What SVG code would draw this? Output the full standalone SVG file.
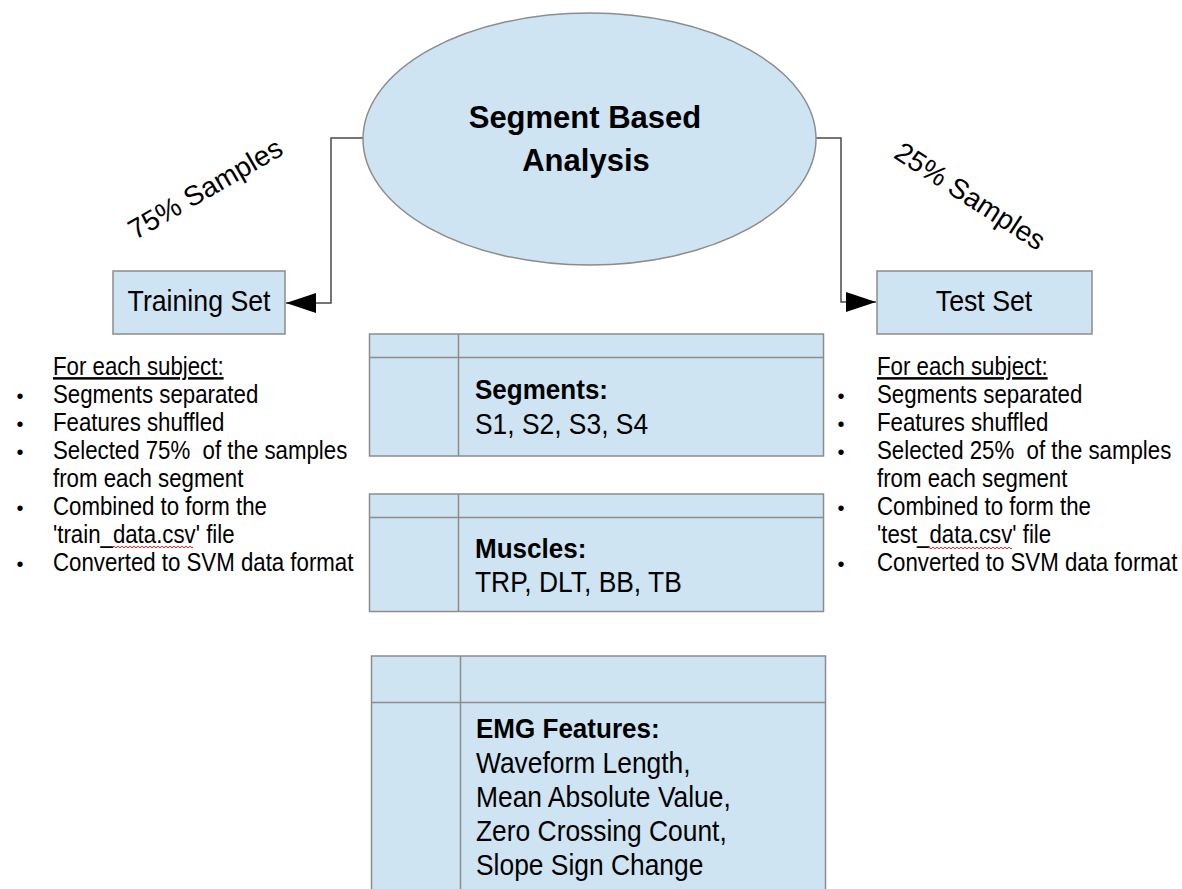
<svg xmlns="http://www.w3.org/2000/svg" width="1182" height="889" viewBox="0 0 1182 889">
  <defs>
    <style>
      .shape { fill: #cfe4f2; stroke: #8c8c8c; stroke-width: 1.5; }
      .grid { stroke: #8c8c8c; stroke-width: 1.5; fill: none; }
      .conn { fill: none; stroke: #4a4a4a; stroke-width: 1.5; }
      text { font-family: "Liberation Sans", Arial, sans-serif; fill: #000; white-space: pre; }
      .title { font-size: 31px; font-weight: bold; text-anchor: middle; }
      .label { font-size: 30px; text-anchor: middle; }
      .angled { font-size: 28px; text-anchor: middle; }
      .body { font-size: 25px; }
      .bullet { font-size: 20px; text-anchor: middle; }
      .thead { font-size: 28px; font-weight: bold; }
      .tbody { font-size: 29px; }
      .squiggle { fill: none; stroke: #e02020; stroke-width: 1; }
    </style>
    <marker id="arrow" viewBox="0 0 30 20" refX="30" refY="10" markerWidth="30" markerHeight="20" markerUnits="userSpaceOnUse" orient="auto">
      <path d="M0,0 L30,10 L0,20 Z" fill="#000"/>
    </marker>
  </defs>

  <!-- connectors from the analysis ellipse to both sets -->
  <g id="connectors">
    <path class="conn" d="M363,138 H331 V303 H286" marker-end="url(#arrow)"/>
    <path class="conn" d="M816,138 H841 V302 H876" marker-end="url(#arrow)"/>
    <text class="angled" transform="translate(210,197) rotate(-30)">75% Samples</text>
    <text class="angled" transform="translate(965,204) rotate(33)">25% Samples</text>
  </g>

  <g id="analysis">
    <ellipse class="shape" cx="589.5" cy="139" rx="226.5" ry="126"/>
    <text class="title" x="585" y="128">Segment Based</text>
    <text class="title" x="586" y="171">Analysis</text>
  </g>

  <g id="training-set">
    <rect class="shape" x="113" y="271" width="172" height="63"/>
    <text class="label" transform="translate(199,311) scale(0.89,1)">Training Set</text>
  </g>

  <g id="test-set">
    <rect class="shape" x="877" y="271" width="215" height="63"/>
    <text class="label" transform="translate(984,311) scale(0.89,1)">Test Set</text>
  </g>

  <g id="training-notes">
    <text class="body" text-decoration="underline" transform="translate(53,375) scale(0.89,1)">For each subject:</text>
    <text class="bullet" x="20" y="403">•</text>
    <text class="body" transform="translate(53,403) scale(0.89,1)">Segments separated</text>
    <text class="bullet" x="20" y="431">•</text>
    <text class="body" transform="translate(53,431) scale(0.89,1)">Features shuffled</text>
    <text class="bullet" x="20" y="459">•</text>
    <text class="body" transform="translate(53,459) scale(0.89,1)">Selected 75%  of the samples</text>
    <text class="body" transform="translate(53,487) scale(0.89,1)">from each segment</text>
    <text class="bullet" x="20" y="515">•</text>
    <text class="body" transform="translate(53,515) scale(0.89,1)">Combined to form the</text>
    <text class="body" transform="translate(53,543) scale(0.89,1)">'train_data.csv' file</text>
    <path class="squiggle" d="M113,547 q1,-1.5 2,0 t2,0 t2,0 t2,0 t2,0 t2,0 t2,0 t2,0 t2,0 t2,0 t2,0 t2,0 t2,0 t2,0 t2,0 t2,0 t2,0 t2,0 t2,0 t2,0 t2,0 t2,0 t2,0 t2,0 t2,0 t2,0 t2,0 t2,0 t2,0 t2,0 t2,0 t2,0 t2,0 t2,0 t2,0 t2,0 t2,0 t2,0 t2,0 t2,0"/>
    <text class="bullet" x="20" y="571">•</text>
    <text class="body" transform="translate(53,571) scale(0.89,1)">Converted to SVM data format</text>
  </g>

  <g id="test-notes">
    <text class="body" text-decoration="underline" transform="translate(877,375) scale(0.89,1)">For each subject:</text>
    <text class="bullet" x="841" y="403">•</text>
    <text class="body" transform="translate(877,403) scale(0.89,1)">Segments separated</text>
    <text class="bullet" x="841" y="431">•</text>
    <text class="body" transform="translate(877,431) scale(0.89,1)">Features shuffled</text>
    <text class="bullet" x="841" y="459">•</text>
    <text class="body" transform="translate(877,459) scale(0.89,1)">Selected 25%  of the samples</text>
    <text class="body" transform="translate(877,487) scale(0.89,1)">from each segment</text>
    <text class="bullet" x="841" y="515">•</text>
    <text class="body" transform="translate(877,515) scale(0.89,1)">Combined to form the</text>
    <text class="body" transform="translate(877,543) scale(0.89,1)">'test_data.csv' file</text>
    <path class="squiggle" d="M928,548 q1,-1.5 2,0 t2,0 t2,0 t2,0 t2,0 t2,0 t2,0 t2,0 t2,0 t2,0 t2,0 t2,0 t2,0 t2,0 t2,0 t2,0 t2,0 t2,0 t2,0 t2,0 t2,0 t2,0 t2,0 t2,0 t2,0 t2,0 t2,0 t2,0 t2,0 t2,0 t2,0 t2,0 t2,0 t2,0 t2,0 t2,0 t2,0 t2,0 t2,0 t2,0 t2,0 t2,0"/>
    <text class="bullet" x="841" y="571">•</text>
    <text class="body" transform="translate(877,571) scale(0.89,1)">Converted to SVM data format</text>
  </g>

  <g id="segments-table">
    <rect class="shape" x="369.5" y="334" width="454" height="122"/>
    <path class="grid" d="M369.5,357.5 H823.5 M458.5,334 V456"/>
    <text class="thead" transform="translate(475,399) scale(0.93,1)">Segments:</text>
    <text class="tbody" transform="translate(475,434) scale(0.91,1)">S1, S2, S3, S4</text>
  </g>

  <g id="muscles-table">
    <rect class="shape" x="369.5" y="494" width="454" height="117.5"/>
    <path class="grid" d="M369.5,517.5 H823.5 M458.5,494 V611.5"/>
    <text class="thead" transform="translate(475,558) scale(0.93,1)">Muscles:</text>
    <text class="tbody" transform="translate(475,592) scale(0.91,1)">TRP, DLT, BB, TB</text>
  </g>

  <g id="features-table">
    <rect class="shape" x="371.5" y="656" width="454" height="250"/>
    <path class="grid" d="M371.5,702.5 H825.5 M460.5,656 V906"/>
    <text class="thead" transform="translate(476,738) scale(0.93,1)">EMG Features:</text>
    <text class="tbody" transform="translate(476,773) scale(0.91,1)">Waveform Length,</text>
    <text class="tbody" transform="translate(476,807) scale(0.91,1)">Mean Absolute Value,</text>
    <text class="tbody" transform="translate(476,841) scale(0.91,1)">Zero Crossing Count,</text>
    <text class="tbody" transform="translate(476,875) scale(0.91,1)">Slope Sign Change</text>
  </g>
</svg>
